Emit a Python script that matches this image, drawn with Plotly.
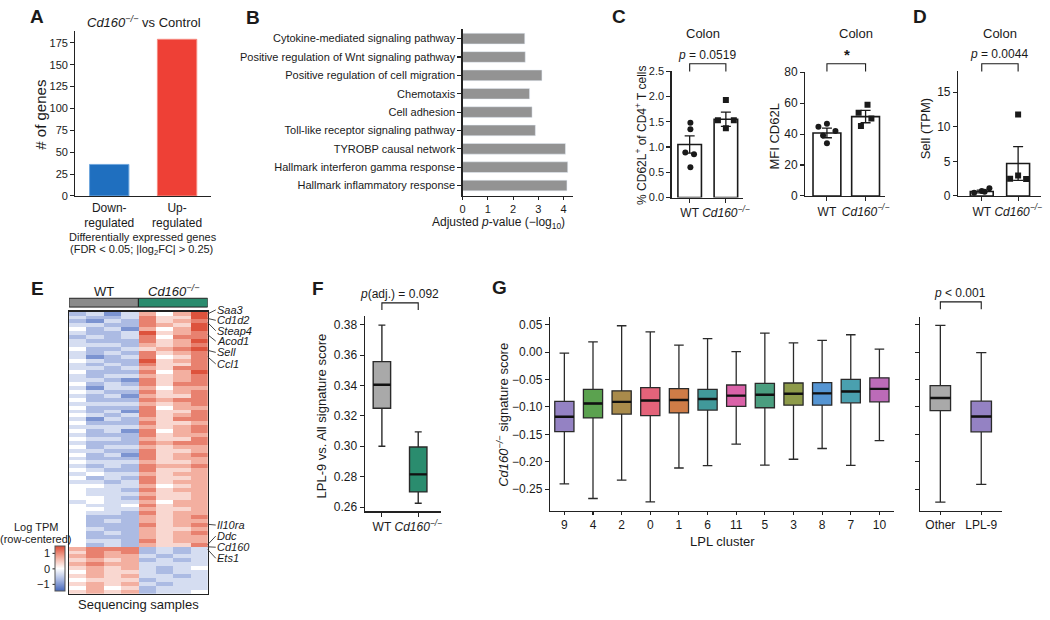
import plotly.graph_objects as go

W, H = 1050, 620
FONT = "Liberation Sans, Arial, Helvetica, sans-serif"
INK = "#1a1a1a"
AXC = "#222222"

# ======================= DATA =======================
# A - number of differentially expressed genes
deg_categories = ["Down-<br>regulated", "Up-<br>regulated"]
deg_counts = [36, 179]
deg_colors = ["#1F6FBF", "#EE4036"]
deg_edge_colors = ["#6FA6DD", "#F58A80"]

# B - enrichment
pathways = [
    "Cytokine-mediated signaling pathway",
    "Positive regulation of Wnt signaling pathway",
    "Positive regulation of cell migration",
    "Chemotaxis",
    "Cell adhesion",
    "Toll-like receptor signaling pathway",
    "TYROBP causal network",
    "Hallmark interferon gamma response",
    "Hallmark inflammatory response",
]
pathway_neglog10p = [2.46, 2.48, 3.14, 2.65, 2.75, 2.88, 4.07, 4.16, 4.13]

# C / D - bar + dot plots
genotypes = ["WT", "<i>Cd160<sup>−/−</sup></i>"]
cd62l_pct_mean = [1.05, 1.55]
cd62l_pct_sem = [0.17, 0.14]
cd62l_pct_wt = [1.48, 1.35, 0.89, 0.86, 0.60]
cd62l_pct_ko = [1.93, 1.53, 1.53, 1.37]
cd62l_mfi_mean = [40.7, 51.3]
cd62l_mfi_sem = [3.1, 4.0]
cd62l_mfi_wt = [46.7, 44.8, 42.0, 39.0, 34.1]
cd62l_mfi_ko = [59.0, 53.7, 50.0, 45.2]
sell_tpm_mean = [0.65, 4.7]
sell_tpm_sem = [0.2, 2.45]
sell_tpm_wt = [0.45, 0.7, 1.1, 0.6]
sell_tpm_ko = [2.5, 2.95, 2.45, 11.8]

# E - heatmap (row-centered log TPM), levels 0..8 where 4 = 0
heat_rows_up = [
    "23136468", "32237558", "21327567", "33227658", "42316468", "32238567",
    "23237477", "32227568", "33326567", "42235678", "32327567", "31237457",
    "43228567", "32327557", "33236577", "42227468", "32336567", "33217567",
    "42327577", "31336466", "43227567", "32316557", "42227677", "33336567",
    "42227466", "32317557", "43237567", "31326577", "42227556", "33336567",
    "42317467", "32227566", "43326557", "32227677", "42336566", "33227556",
    "42317567", "32227566", "43336556", "32327667", "43227556", "34336566",
    "42327556", "33237566", "44336456", "43327566", "43336556", "44327556",
    "34336466", "43347566", "44336556", "43327566", "42226567", "42326566",
    "42227567", "43226556", "42326567", "42226566", "43327566", "42326557",
]
heat_rows_down = [
    "67772323", "57672323", "67663233", "56562323", "67663333", "56563234",
    "46553233", "56563323", "45552333", "56563233", "46452333", "56562334",
]
heat_level_step = 0.35
heat_zero_level = 4
heat_groups = ["WT", "<i>Cd160<sup>−/−</sup></i>"]
gene_labels = ["Saa3", "Cd1d2", "Steap4", "Acod1", "Sell", "Ccl1", "Il10ra", "Ddc", "Cd160", "Ets1"]
gene_rows = [1.7, 5.2, 8.4, 17.6, 29.6, 34.6, 162.6, 178.1, 179.8, 181.9]
cb_ticks = [1, 0, -1]
cb_ticktext = ["1", "0", "−1"]

# F - LPL-9 signature score
f_groups = ["WT", "<i>Cd160<sup>−/−</sup></i>"]
f_lower = [0.300, 0.2625]
f_q1 = [0.325, 0.2700]
f_median = [0.3405, 0.2815]
f_q3 = [0.3557, 0.2995]
f_upper = [0.3797, 0.3095]
f_colors = ["#A9A9A9", "#2A8C6E"]

# G - Cd160 signature score per LPL cluster
lpl_clusters = ["9", "4", "2", "0", "1", "6", "11", "5", "3", "8", "7", "10"]
g_upper = [-0.002, 0.0185, 0.048, 0.037, 0.0126, 0.0245, 0.0007, 0.0345, 0.0167, 0.0215, 0.0316, 0.0054]
g_q3 = [-0.090, -0.068, -0.0706, -0.065, -0.0665, -0.068, -0.060, -0.057, -0.0564, -0.0558, -0.0498, -0.0469]
g_median = [-0.118, -0.0938, -0.0908, -0.0884, -0.0873, -0.0856, -0.0795, -0.0777, -0.076, -0.0754, -0.0718, -0.0671]
g_q1 = [-0.145, -0.120, -0.113, -0.116, -0.111, -0.1057, -0.099, -0.1015, -0.0968, -0.0968, -0.0926, -0.0908]
g_lower = [-0.2405, -0.267, -0.2334, -0.273, -0.2114, -0.207, -0.168, -0.206, -0.1954, -0.1758, -0.2067, -0.1615]
g_colors = ["#9482C3", "#5BA24F", "#A98B4B", "#E4637A", "#CF7C47", "#41999A",
            "#DA62A8", "#4A9E7F", "#8E9B4A", "#5595D3", "#4AA0AF", "#BC6BB8"]
g2_groups = ["Other", "LPL-9"]
g2_upper = [0.0488, -0.0011]
g2_q3 = [-0.061, -0.0896]
g2_median = [-0.0837, -0.1176]
g2_q1 = [-0.1069, -0.1455]
g2_lower = [-0.2738, -0.2412]
g2_colors = ["#A9A9A9", "#9482C3"]

# ======================= HELPERS =======================
def fx(px):
    return px / W


def fy(py):
    return 1 - py / H


annotations = []
shapes = []


def txt(x, y, s, size=12, **kw):
    d = dict(x=fx(x), y=fy(y), xref="paper", yref="paper", text=s, showarrow=False,
             font=dict(family=FONT, size=size, color=INK), xanchor="center", yanchor="middle")
    d.update(kw)
    annotations.append(d)


def bracket(xa, x0, x1, ytop, ybot):
    shapes.append(dict(type="path", xref=xa, yref="paper",
                       path=f"M {x0},{fy(ybot)} L {x0},{fy(ytop)} L {x1},{fy(ytop)} L {x1},{fy(ybot)}",
                       line=dict(color=INK, width=1.1)))


def axis(xdom=None, ydom=None, rng=None, **kw):
    d = dict(range=rng, showline=True, linecolor=AXC, linewidth=1.2, ticks="outside",
             ticklen=4, tickwidth=1.1, tickcolor=AXC, showgrid=False, zeroline=False,
             tickfont=dict(size=11, color=INK, family=FONT), fixedrange=True)
    if xdom is not None:
        d["domain"] = [fx(xdom[0]), fx(xdom[1])]
    if ydom is not None:
        d["domain"] = [fy(ydom[0]), fy(ydom[1])]
    d.update(kw)
    return d


fig = go.Figure()

# ======================= A =======================
fig.add_trace(go.Bar(x=[0, 1], y=deg_counts, width=0.58,
                     marker=dict(color=deg_colors, line=dict(color=deg_edge_colors, width=1)),
                     xaxis="x", yaxis="y", showlegend=False, hoverinfo="skip"))

# ======================= B =======================
fig.add_trace(go.Bar(y=list(range(len(pathways))), x=pathway_neglog10p, orientation="h", width=0.58,
                     marker=dict(color="#939393"), xaxis="x2", yaxis="y2",
                     showlegend=False, hoverinfo="skip"))

# ======================= C / D =======================
def bar_dots(xa, ya, means, sems, wt, ko, wt_jit, ko_jit, bw):
    fig.add_trace(go.Bar(x=[0, 1], y=means, width=bw,
                         error_y=dict(type="data", array=sems, color=INK, thickness=1.3, width=5),
                         marker=dict(color="white", line=dict(color=INK, width=1.6)),
                         xaxis=xa, yaxis=ya, showlegend=False, hoverinfo="skip"))
    fig.add_trace(go.Scatter(x=[0 + j for j in wt_jit], y=wt, mode="markers",
                             marker=dict(symbol="circle", size=6, color=INK),
                             xaxis=xa, yaxis=ya, showlegend=False, hoverinfo="skip"))
    fig.add_trace(go.Scatter(x=[1 + j for j in ko_jit], y=ko, mode="markers",
                             marker=dict(symbol="square", size=6, color=INK),
                             xaxis=xa, yaxis=ya, showlegend=False, hoverinfo="skip"))


bar_dots("x3", "y3", cd62l_pct_mean, cd62l_pct_sem, cd62l_pct_wt, cd62l_pct_ko,
         [0.02, 0.02, -0.12, 0.12, 0.02], [0.0, -0.22, 0.22, 0.0], 0.65)
bar_dots("x4", "y4", cd62l_mfi_mean, cd62l_mfi_sem, cd62l_mfi_wt, cd62l_mfi_ko,
         [0.0, -0.22, 0.22, -0.1, 0.0], [0.05, -0.18, 0.15, -0.12], 0.72)
bar_dots("x5", "y5", sell_tpm_mean, sell_tpm_sem, sell_tpm_wt, sell_tpm_ko,
         [-0.21, 0.0, 0.21, 0.08], [-0.22, 0.0, 0.22, 0.0], 0.63)

# ======================= E =======================
heat_z = [[(int(ch) - heat_zero_level) * heat_level_step for ch in row]
          for row in heat_rows_up + heat_rows_down]
HM_TOP, HM_BOT = 311.7, 600.7
N_GENES = 3 * len(heat_z)
CB_TOP, CB_BOT, CB_ZMAX = 551.7, 598.0, 1.46
colorscale = [[0.0, "#4466BB"], [0.25, "#A8B8E2"], [0.5, "#FFFFFF"], [0.75, "#F3AC9C"], [1.0, "#DB4B35"]]
fig.add_trace(go.Heatmap(z=heat_z, x0=0, dx=1, y0=1.5, dy=3, zmin=-CB_ZMAX, zmax=CB_ZMAX,
                         colorscale=colorscale, xaxis="x6", yaxis="y6", hoverinfo="skip",
                         colorbar=dict(x=fx(53), xanchor="left", xpad=0, ypad=0,
                                       y=fy((CB_TOP + CB_BOT) / 2), yanchor="middle",
                                       len=(CB_BOT - CB_TOP) / H, lenmode="fraction",
                                       thickness=10, thicknessmode="pixels",
                                       outlinewidth=1, outlinecolor="#555",
                                       showticklabels=False, ticks="")))
# colorbar tick labels on the left
for v, t in zip(cb_ticks, cb_ticktext):
    ypx = (CB_TOP + CB_BOT) / 2 - v * (CB_BOT - CB_TOP) / (2 * CB_ZMAX)
    txt(49.5, ypx, t, size=11, xanchor="right")
    shapes.append(dict(type="line", xref="paper", yref="paper", x0=fx(50), x1=fx(53),
                       y0=fy(ypx), y1=fy(ypx), line=dict(color=AXC, width=1)))
txt(33, 532.5, "Log TPM", size=11)
txt(33, 544, "(row-centered)", size=11)

# group header bars
shapes.append(dict(type="rect", xref="x6", yref="paper", x0=-0.5, x1=3.5, y0=fy(307), y1=fy(298),
                   fillcolor="#8A8A8A", line=dict(color=AXC, width=1)))
shapes.append(dict(type="rect", xref="x6", yref="paper", x0=3.5, x1=7.5, y0=fy(307), y1=fy(298),
                   fillcolor="#2A8C6E", line=dict(color=AXC, width=1)))
for gx, g in zip([1.5, 5.5], heat_groups):
    annotations.append(dict(x=gx, y=fy(291), xref="x6", yref="paper", text=g, showarrow=False,
                            font=dict(family=FONT, size=13, color=INK), yanchor="middle"))

# gene labels with leader lines
gene_label_y = [310, 320.5, 331, 341.7, 353.3, 365, 530, 541.5, 552.7, 563.8]
for g, r, ly in zip(gene_labels, gene_rows, gene_label_y):
    rpx = HM_TOP + r / N_GENES * (HM_BOT - HM_TOP)
    annotations.append(dict(x=7.5, y=r, xref="x6", yref="y6", text=f"<i>{g}</i>",
                            showarrow=True, arrowhead=0, arrowwidth=0.9, arrowcolor="#333",
                            ax=8, ay=ly - rpx, standoff=0, xanchor="left", yanchor="middle",
                            borderpad=0, font=dict(family=FONT, size=11, color=INK)))
txt(136.7, 611, "Sequencing samples", size=13)

# ======================= F =======================
F_W = 0.48
for i in range(2):
    fig.add_trace(go.Box(x=[i], q1=[f_q1[i]], median=[f_median[i]], q3=[f_q3[i]],
                         lowerfence=[f_lower[i]], upperfence=[f_upper[i]], width=F_W,
                         whiskerwidth=0.4, fillcolor=f_colors[i], boxpoints=False,
                         line=dict(color="#2a2a2a", width=1.4),
                         xaxis="x7", yaxis="y7", showlegend=False, hoverinfo="skip"))
    shapes.append(dict(type="line", xref="x7", yref="y7", x0=i - F_W / 2, x1=i + F_W / 2,
                       y0=f_median[i], y1=f_median[i], line=dict(color="#111", width=2.4)))

# ======================= G =======================
G_W = 0.67
for i, c in enumerate(lpl_clusters):
    fig.add_trace(go.Box(x=[i], q1=[g_q1[i]], median=[g_median[i]], q3=[g_q3[i]],
                         lowerfence=[g_lower[i]], upperfence=[g_upper[i]], width=G_W,
                         whiskerwidth=0.5, fillcolor=g_colors[i], boxpoints=False,
                         line=dict(color="#2a2a2a", width=1.3),
                         xaxis="x8", yaxis="y8", showlegend=False, hoverinfo="skip"))
    shapes.append(dict(type="line", xref="x8", yref="y8", x0=i - G_W / 2, x1=i + G_W / 2,
                       y0=g_median[i], y1=g_median[i], line=dict(color="#111", width=2.4)))
G2_W = 0.5
for i, c in enumerate(g2_groups):
    fig.add_trace(go.Box(x=[i], q1=[g2_q1[i]], median=[g2_median[i]], q3=[g2_q3[i]],
                         lowerfence=[g2_lower[i]], upperfence=[g2_upper[i]], width=G2_W,
                         whiskerwidth=0.5, fillcolor=g2_colors[i], boxpoints=False,
                         line=dict(color="#2a2a2a", width=1.3),
                         xaxis="x9", yaxis="y9", showlegend=False, hoverinfo="skip"))
    shapes.append(dict(type="line", xref="x9", yref="y9", x0=i - G2_W / 2, x1=i + G2_W / 2,
                       y0=g2_median[i], y1=g2_median[i], line=dict(color="#111", width=2.4)))

# ======================= AXES =======================
G_TICKS = [0.05, 0.0, -0.05, -0.10, -0.15, -0.20, -0.25]
TF12 = dict(size=12, color=INK, family=FONT)
TF11 = dict(size=11, color=INK, family=FONT)
layout_axes = dict(
    # A
    xaxis=axis(xdom=(73, 210), rng=[-0.5, 1.5], anchor="y", ticks="", tickvals=[0, 1],
               ticktext=deg_categories, tickfont=TF12),
    yaxis=axis(ydom=(193.3, 25), rng=[0, 188], anchor="x", tickvals=list(range(0, 176, 25))),
    # B
    xaxis2=axis(xdom=(464, 575), rng=[0, 4.35], anchor="y2", tickvals=[0, 1, 2, 3, 4], ticklen=3),
    yaxis2=axis(ydom=(193, 22), rng=[8.55, -0.55], anchor="x2", tickvals=list(range(len(pathways))),
                ticktext=pathways, tickfont=TF11),
    # C1
    xaxis3=axis(xdom=(675, 747), rng=[-0.5, 1.47], anchor="y3", tickvals=[0, 1], ticktext=genotypes,
                tickfont=TF12),
    yaxis3=axis(ydom=(195, 65.7), rng=[0, 2.5], anchor="x3", tickvals=[0, 0.5, 1, 1.5, 2, 2.5],
                tickformat=".1f", tickfont=TF11),
    # C2
    xaxis4=axis(xdom=(810, 890), rng=[-0.56, 1.49], anchor="y4", tickvals=[0, 1], ticktext=genotypes,
                tickfont=TF12),
    yaxis4=axis(ydom=(193.3, 66.7), rng=[0, 80], anchor="x4", tickvals=[0, 20, 40, 60, 80],
                tickfont=TF12),
    # D
    xaxis5=axis(xdom=(964.3, 1048), rng=[-0.65, 1.63], anchor="y5", tickvals=[0, 1], ticktext=genotypes,
                tickfont=TF12),
    yaxis5=axis(ydom=(193.3, 65), rng=[0, 18.15], anchor="x5", tickvals=[0, 5, 10, 15], tickfont=TF12),
    # E heatmap
    xaxis6=axis(xdom=(66.7, 206.7), rng=[-0.5, 7.5], anchor="y6", ticks="", showticklabels=False,
                mirror=True, linewidth=1.3),
    yaxis6=axis(ydom=(HM_BOT, HM_TOP), rng=[N_GENES, 0], anchor="x6", ticks="", showticklabels=False,
                mirror=True, linewidth=1.3),
    # F
    xaxis7=axis(xdom=(365.3, 442.7), rng=[-0.47, 1.64], anchor="y7", tickvals=[0, 1], ticktext=f_groups,
                tickfont=TF12),
    yaxis7=axis(ydom=(516, 316), rng=[0.2572, 0.3858], anchor="x7",
                tickvals=[0.26, 0.28, 0.30, 0.32, 0.34, 0.36, 0.38], tickformat=".2f", tickfont=TF12),
    # G1
    xaxis8=axis(xdom=(552.3, 899.3), rng=[-0.5, 11.5], anchor="y8", ticklen=3,
                tickvals=list(range(len(lpl_clusters))), ticktext=lpl_clusters, tickfont=TF12),
    yaxis8=axis(ydom=(515.3, 317.3), rng=[-0.2892, 0.0637], anchor="x8", tickvals=G_TICKS,
                tickformat=".2f", tickfont=TF12),
    # G2
    xaxis9=axis(xdom=(925.7, 1008.3), rng=[-0.5, 1.5], anchor="y9", tickvals=[0, 1], ticklen=3,
                ticktext=g2_groups, tickfont=TF12),
    yaxis9=axis(ydom=(515.3, 317.3), rng=[-0.2892, 0.0637], anchor="x9", tickvals=G_TICKS,
                showticklabels=False),
)

# ======================= TEXT =======================
# panel letters
for L, x, y in [("A", 34.5, 10), ("B", 252, 11), ("C", 622, 9.5), ("D", 926, 9.5),
                ("E", 35, 288), ("F", 318, 288), ("G", 501.5, 287)]:
    txt(x, y, f"<b>{L}</b>", size=19)

# A
txt(142, 15, "<i>Cd160<sup>−/−</sup></i> vs Control", size=13)
txt(37.5, 110, "# of genes", size=15, textangle=-90)
txt(141, 235, "Differentially expressed genes", size=11)
txt(140, 248.5, "(FDR < 0.05; |log<sub>2</sub>FC| > 0.25)", size=11)

# B
txt(500, 221, "Adjusted <i>p</i>-value (−log<sub>10</sub>)", size=12)

# C1
txt(707, 27, "Colon", size=13)
txt(711, 49, "<i>p</i> = 0.0519", size=12)
bracket("x3", 0, 1, 58, 66)
txt(644, 131, "% CD62L<sup>+</sup> of CD4<sup>+</sup> T cells", size=12, textangle=-90)
# C2
txt(861.7, 27, "Colon", size=13)
txt(852, 49, "<b>*</b>", size=15)
bracket("x4", 0, 1, 58, 66)
txt(779, 133, "MFI CD62L", size=13, textangle=-90)
# D
txt(1006.7, 27, "Colon", size=13)
txt(1006, 48, "<i>p</i> = 0.0044", size=12)
bracket("x5", 0, 1, 58, 66)
txt(931, 125, "Sell (TPM)", size=13, textangle=-90)

# F
txt(400, 293.3, "<i>p</i>(adj.) = 0.092", size=12)
bracket("x7", 0, 1, 302.7, 310)
txt(322, 418, "LPL-9 vs. All signature score", size=13, textangle=-90)

# G
txt(504, 417, "<i>Cd160<sup>−/−</sup></i> signature score", size=13, textangle=-90)
txt(726.7, 547, "LPL cluster", size=13)
txt(966.7, 292.7, "<i>p</i> < 0.001", size=12)
bracket("x9", 0, 1, 301.7, 309.3)

fig.update_layout(
    width=W, height=H, autosize=False,
    margin=dict(l=0, r=0, t=0, b=0, pad=0),
    paper_bgcolor="white", plot_bgcolor="white",
    font=dict(family=FONT, size=11, color=INK),
    showlegend=False, barmode="overlay", boxmode="overlay",
    annotations=annotations, shapes=shapes,
    **layout_axes,
)

fig.write_html("out.html", config={"displayModeBar": False, "staticPlot": True},
               post_script="document.body.style.margin='0';document.body.style.overflow='hidden';")
